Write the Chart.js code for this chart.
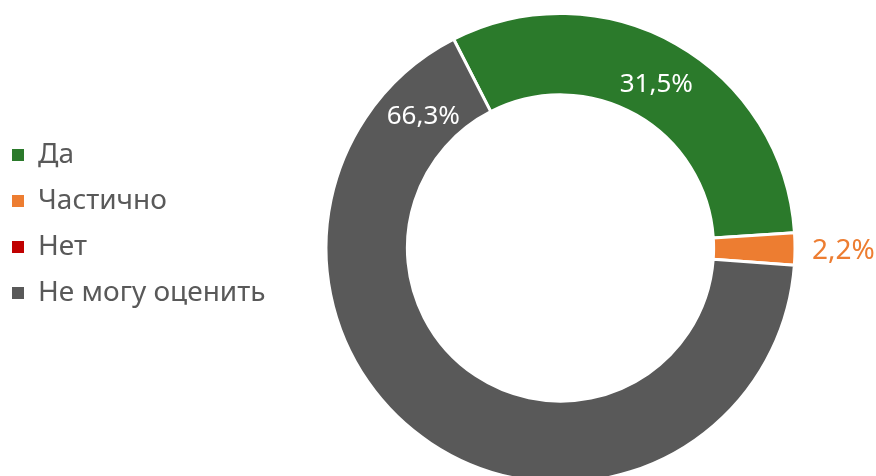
<!DOCTYPE html>
<html>
<head>
<meta charset="utf-8">
<script src="https://cdn.jsdelivr.net/npm/chart.js@4/dist/chart.umd.min.js"></script>
<style>
  html, body { margin: 0; padding: 0; background: #fff; overflow: hidden; }
  #wrap { width: 876px; height: 476px; overflow: hidden; position: relative; }
  /* canvas pulled a little to the left so the legend boxes sit near the edge */
  #chart { position: absolute; left: -6px; top: 0; }
</style>
</head>
<body>
<div id="wrap"><canvas id="chart" width="882" height="476"></canvas></div>
<script>
// answers and shares (%)
const categories = ["Да", "Частично", "Нет", "Не могу оценить"];
const shares = [31.5, 2.2, 0, 66.3];
const colors = ["#2b7a2b", "#ed7d31", "#c00000", "#595959"];

const FONT = "'Noto Sans', 'Open Sans', sans-serif";
const LEGEND_SIZE = 28;
const LEGEND_PAD = 18;
const BOX = 12;
const CENTER_X = 566.5; // wanted doughnut centre, canvas px

// legend width as chart.js computes it for a vertical legend
const mctx = document.createElement('canvas').getContext('2d');
mctx.font = `${LEGEND_SIZE}px ${FONT}`;
const widest = Math.max(...categories.map(c => mctx.measureText(c).width));
const legendW = LEGEND_PAD + BOX + LEGEND_SIZE / 2 + widest + 10;
const padRight = Math.max(legendW + 882 - 2 * CENTER_X, 0);

// draws the percent labels on / next to the slices
const sliceLabels = {
  id: 'sliceLabels',
  afterDatasetsDraw(chart, args, opts) {
    const ctx = chart.ctx;
    const meta = chart.getDatasetMeta(0);
    ctx.save();
    ctx.textBaseline = 'alphabetic';
    meta.data.forEach((arc, i) => {
      const v = shares[i];
      if (!v) return;
      const p = arc.getProps(['x', 'y', 'startAngle', 'endAngle', 'innerRadius', 'outerRadius'], true);
      const a = p.startAngle + (p.endAngle - p.startAngle) * opts.along[i];
      const text = v.toFixed(1).replace('.', ',') + '%';
      const size = opts.outside[i] ? 28 : 26;
      ctx.font = `${size}px ${FONT}`;
      let r;
      if (opts.outside[i]) {
        r = p.outerRadius + 17;
        ctx.fillStyle = colors[i];
        ctx.textAlign = 'left';
      } else {
        r = (p.innerRadius + p.outerRadius) / 2 - 2.5;
        ctx.fillStyle = '#ffffff';
        ctx.textAlign = 'center';
      }
      // 0.357em = half the cap height, so the digits are centred on the point
      ctx.fillText(text, p.x + Math.cos(a) * r, p.y + Math.sin(a) * r + size * 0.357);
    });
    ctx.restore();
  }
};

new Chart(document.getElementById('chart'), {
  type: 'doughnut',
  data: {
    labels: categories,
    datasets: [{
      data: shares,
      backgroundColor: colors,
      borderColor: '#ffffff',
      borderWidth: 3,
      clip: false
    }]
  },
  options: {
    responsive: false,
    animation: false,
    events: [],
    rotation: -27.1,
    radius: 234.5,
    cutout: '65.3%',
    layout: { padding: { left: 0, right: padRight, top: 123, bottom: 103 } },
    plugins: {
      tooltip: { enabled: false },
      legend: {
        position: 'left',
        align: 'start',
        labels: {
          boxWidth: BOX,
          boxHeight: BOX,
          padding: LEGEND_PAD,
          color: '#595959',
          font: { family: FONT, size: LEGEND_SIZE },
          generateLabels: (chart) =>
            Chart.overrides.doughnut.plugins.legend.labels.generateLabels(chart)
              .map(l => ({ ...l, lineWidth: 0 }))
        }
      },
      sliceLabels: {
        along: [0.504, 0.5, 0.5, 0.9215],
        outside: [false, true, false, false]
      }
    }
  },
  plugins: [sliceLabels]
});
</script>
</body>
</html>
